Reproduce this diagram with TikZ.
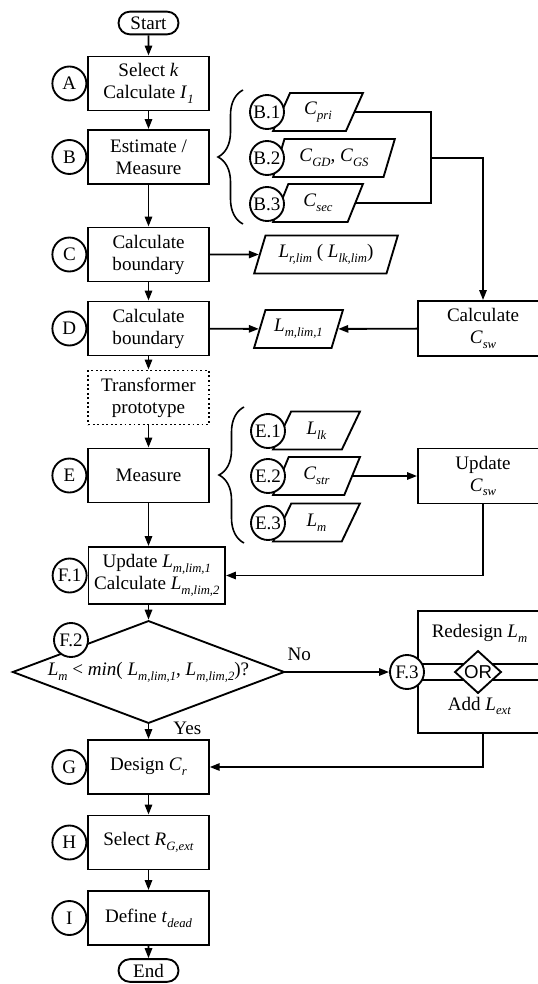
\documentclass[tikz,border=0pt]{standalone}
\usepackage{fontspec}
\setmainfont{Liberation Serif}
\newfontfamily\orfont{Liberation Sans}
\usepackage{tikz}
\usetikzlibrary{shapes.geometric, shapes.misc, arrows.meta, positioning, decorations.pathreplacing}
\newcommand{\vsub}[2]{\textit{#1}\raisebox{-0.55ex}{\fontsize{9.5}{10}\selectfont\textit{#2}}}
\tikzset{
  block/.style={rectangle, draw=black, fill=white, align=center,
    minimum width=90.4pt, minimum height=40.5pt, inner sep=2pt, line width=1.4pt},
  protoblock/.style={block, dotted},
  termnode/.style={rounded rectangle, draw=black, fill=white,
    minimum width=47pt, minimum height=17pt, inner sep=1pt, line width=1.4pt},
  tagnode/.style={circle, draw=black, fill=white,
    minimum size=25.5pt, inner sep=0pt, line width=1.4pt},
  datanode/.style={trapezium, trapezium left angle=68, trapezium right angle=112,
    trapezium stretches=true, draw=black, fill=white,
    minimum height=28.5pt, inner sep=1pt, line width=1.4pt},
  decision/.style={diamond, draw=black, fill=white, aspect=2.64,
    minimum width=204pt, minimum height=77pt, inner sep=0pt, line width=1.4pt},
  ornode/.style={diamond, draw=black, fill=white, minimum width=35pt, minimum height=32pt,
    inner sep=0pt, line width=1.4pt, font=\fontsize{14}{16}\selectfont\orfont},
  sideblock/.style={block, minimum width=97.5pt, minimum height=41.25pt},
  arrow/.style={-{Triangle[length=7.5pt,width=5.5pt]}, line width=1.4pt},
  line/.style={line width=1.4pt},
  lbl/.style={inner sep=0pt}
}

\begin{document}
\begin{tikzpicture}[x=0.75pt, y=-0.75pt, every node/.style={font=\fontsize{14.3}{16.5}\selectfont}]
  \useasboundingbox (0,0) rectangle (538,984);
  \clip (0,0) rectangle (538,984);
  \fill[white] (0,0) rectangle (538,984);

  % Main column
  \node[termnode] (start) at (148.5,23) {Start};
  \node[block] (a) at (148.5,83.5) {Select \textit{k}\\Calculate \vsub{I}{1}};
  \node[block] (b) at (148.5,157) {Estimate /\\Measure};
  \node[block] (c) at (148.5,254.5) {Calculate\\boundary};
  \node[block] (d) at (148.5,328.5) {Calculate\\boundary};
  \node[protoblock] (proto) at (148.5,397.5) {Transformer\\prototype};
  \node[block] (e) at (148.5,475.5) {Measure};
  \node[block, minimum width=102.4pt, minimum height=42.75pt] (f1) at (156.75,575.5) {Update \vsub{L}{m,lim,1}\\Calculate \vsub{L}{m,lim,2}};
  \node[decision] (f2) at (148.5,672) {\vsub{L}{m} < \textit{min}( \vsub{L}{m,lim,1}, \vsub{L}{m,lim,2})?};
  \node[block] (g) at (148.5,767) {Design \vsub{C}{r}};
  \node[block] (h) at (148.5,842.5) {Select \vsub{R}{G,ext}};
  \node[block] (i) at (148.5,918) {Define \vsub{t}{dead}};
  \node[termnode] (end) at (148.5,970.5) {End};

  % Data nodes
  \node[datanode, minimum width=67.5pt] (b1) at (318,112) {\vsub{C}{pri}};
  \node[datanode, minimum width=91.5pt] (b2) at (334,158) {\vsub{C}{GD}, \vsub{C}{GS}};
  \node[datanode, minimum width=67.5pt] (b3) at (318,203) {\vsub{C}{sec}};
  \node[datanode, minimum width=108pt] (lr) at (326,254.5) {\vsub{L}{r,lim} ( \vsub{L}{lk,lim})};
  \node[datanode, minimum width=66.75pt] (lm) at (298.5,329) {\vsub{L}{m,lim,1}};
  \node[datanode, minimum width=65.25pt] (e1) at (316.5,430.5) {\vsub{L}{lk}};
  \node[datanode, minimum width=65.25pt] (e2) at (316.5,476) {\vsub{C}{str}};
  \node[datanode, minimum width=65.25pt] (e3) at (316.5,522.5) {\vsub{L}{m}};

  % Right column (cut by the right margin)
  \node[sideblock] (calc) at (483,328.5) {Calculate\\\vsub{C}{sw}};
  \node[sideblock] (upd) at (483,476) {Update\\\vsub{C}{sw}};
  \node[sideblock, minimum height=91.5pt] (f3) at (483,672) {};
  \draw[line] ([yshift=6pt]f3.west) -- ([yshift=6pt]f3.east);
  \draw[line] ([yshift=-6pt]f3.west) -- ([yshift=-6pt]f3.east);
  \node[ornode] (or) at (478,672) {OR};
  \node (redesign) at (479.5,633) {Redesign \vsub{L}{m}};
  \node (addl) at (479.5,706) {Add \vsub{L}{ext}};

  % Braces
  \draw[line, line width=1.2pt, decorate, decoration={brace, amplitude=18.75pt}] (243,224) -- (243,90);
  \draw[line, line width=1.2pt, decorate, decoration={brace, amplitude=18.75pt}] (244,543) -- (244,407);

  % Step tags
  \node[tagnode, anchor=east] (ta) at (a.west) {A};
  \node[tagnode, anchor=east] (tb) at (b.west) {B};
  \node[tagnode, anchor=east] (tc) at (c.west) {C};
  \node[tagnode, anchor=east] (td) at (d.west) {D};
  \node[tagnode, anchor=east] (te) at (e.west) {E};
  \node[tagnode, anchor=east] (tf1) at (f1.west) {F.1};
  \node[tagnode] (tf2) at (71,640) {F.2};
  \node[tagnode] (tf3) at (407,672) {F.3};
  \node[tagnode, anchor=east] (tg) at (g.west) {G};
  \node[tagnode, anchor=east] (th) at (h.west) {H};
  \node[tagnode, anchor=east] (ti) at (i.west) {I};
  \node[tagnode] (tb1) at (267,112) {B.1};
  \node[tagnode] (tb2) at (267,158) {B.2};
  \node[tagnode] (tb3) at (267,204) {B.3};
  \node[tagnode] (te1) at (268,431) {E.1};
  \node[tagnode] (te2) at (268,476) {E.2};
  \node[tagnode] (te3) at (268,523) {E.3};

  % Flow
  \draw[arrow] (start) -- (a);
  \draw[arrow] (a) -- (b);
  \draw[arrow] (b) -- (c);
  \draw[arrow] (c) -- (d);
  \draw[arrow] (d) -- (proto);
  \draw[arrow] (proto) -- (e);
  \draw[arrow] (e) -- (e |- f1.north);
  \draw[arrow] (f1.south -| f2.north) -- (f2.north);
  \draw[arrow] (f2) -- node[lbl, anchor=west, pos=0.25, xshift=18pt] {Yes} (g);
  \draw[arrow] (g) -- (h);
  \draw[arrow] (h) -- (i);
  \draw[arrow] (i) -- (end);

  % Side branches
  \draw[arrow] (c) -- (lr);
  \draw[arrow] (d) -- (lm);
  \draw[arrow] (calc) -- (lm);
  \coordinate (bj) at (431,158);
  \draw[line] (b1) -| (bj) |- (b3);
  \draw[arrow] (bj) -| (calc);
  \draw[arrow] (e2) -- (upd);
  \draw[arrow] (upd) |- (f1);
  \draw[arrow] (f2) -- node[lbl, anchor=south west, pos=0, xshift=1pt, yshift=7.5pt] {No} (tf3);
  \draw[arrow] (f3) |- (g);
\end{tikzpicture}
\end{document}
